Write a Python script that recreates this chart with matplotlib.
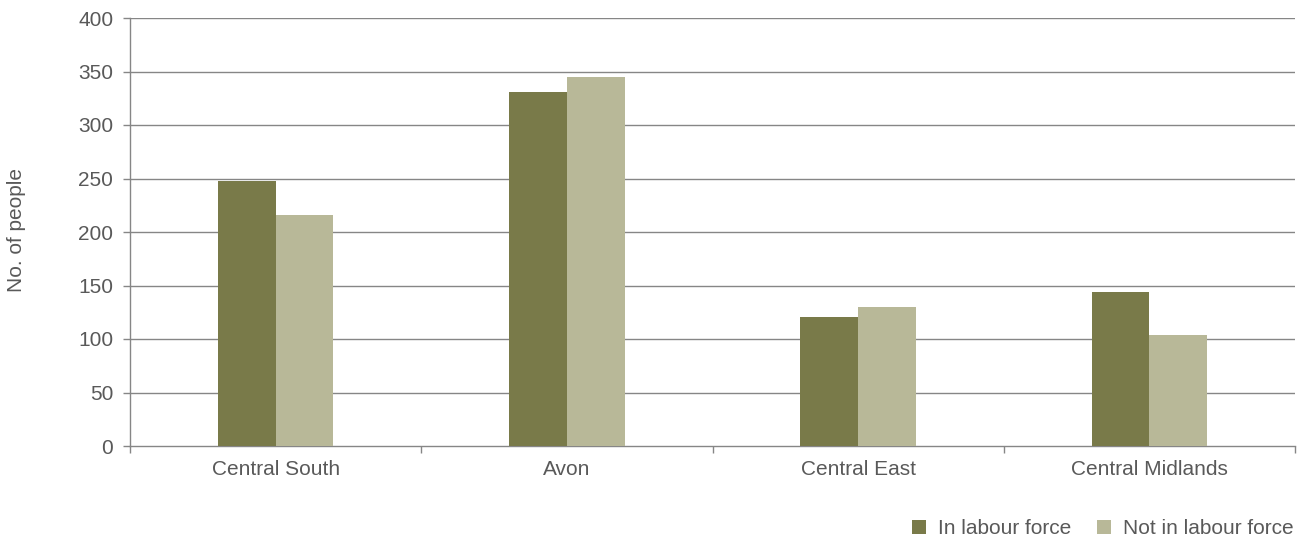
import numpy as np
import matplotlib
matplotlib.use("Agg")
import matplotlib.pyplot as plt
from matplotlib.ticker import FixedLocator

# ── data ────────────────────────────────────────────
regions = ["Central South", "Avon", "Central East", "Central Midlands"]
in_labour = [248, 331, 121, 144]
not_in_labour = [216, 345, 130, 104]
y_ticks = list(range(0, 401, 50))

# ── style ───────────────────────────────────────────
FS = 15
plt.rcParams.update({
    "font.family": ["Liberation Sans", "DejaVu Sans"],
    "font.size": FS,
    "text.color": "#595959",
    "axes.labelcolor": "#595959",
    "xtick.color": "#868686",
    "ytick.color": "#868686",
    "xtick.labelcolor": "#595959",
    "ytick.labelcolor": "#595959",
})
DARK = "#797A49"
LIGHT = "#B8B898"
AXIS = "#868686"

fig = plt.figure(figsize=(13.01, 5.47), dpi=100)
ax = fig.add_axes([130 / 1301, 1 - 446 / 547, 1165 / 1301, 428 / 547])

x = np.arange(len(regions))
w = 0.198
ax.bar(x - w / 2, in_labour, w, color=DARK, label="In labour force", zorder=3)
ax.bar(x + w / 2, not_in_labour, w, color=LIGHT, label="Not in labour force", zorder=3)

ax.set_xlim(-0.5, len(regions) - 0.5)
ax.set_ylim(0, 400)
ax.set_yticks(y_ticks)
for v in y_ticks[1:]:
    ax.axhline(v, color=AXIS, lw=1.0, zorder=1)

ax.set_xticks(x)
ax.set_xticklabels(regions)
ax.xaxis.set_minor_locator(FixedLocator(np.arange(-0.5, len(regions), 1.0)))
ax.tick_params(axis="x", which="major", length=0, pad=10)
ax.tick_params(axis="x", which="minor", length=5, width=1, direction="out")
ax.tick_params(axis="y", length=5, width=1, direction="out", pad=7)

for side in ("top", "right"):
    ax.spines[side].set_visible(False)
for side in ("left", "bottom"):
    ax.spines[side].set_color(AXIS)
    ax.spines[side].set_linewidth(1.0)

fig.text(17 / 1301, 1 - 230 / 547, "No. of people", rotation=90,
         ha="center", va="center", fontsize=FS, color="#595959")

fig.legend(loc="center right", bbox_to_anchor=(1294 / 1301, 1 - 529 / 547),
           ncol=2, frameon=False, handlelength=0.68, handleheight=0.68,
           handletextpad=0.6, columnspacing=1.2, borderaxespad=0,
           borderpad=0, fontsize=FS)

fig.savefig("out.png", dpi=100)
